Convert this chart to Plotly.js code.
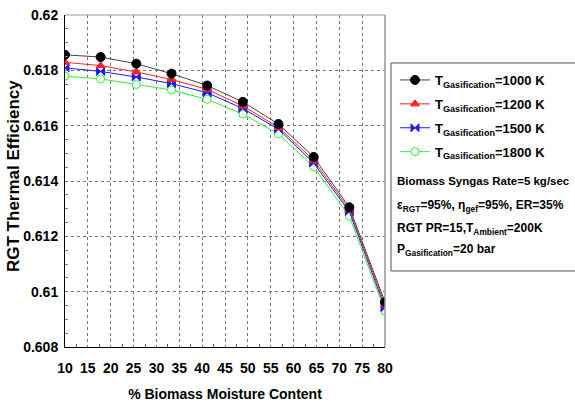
<!DOCTYPE html>
<html>
<head>
<meta charset="utf-8">
<script src="https://cdn.plot.ly/plotly-3.0.1.min.js"></script>
<style>html,body{margin:0;padding:0;background:#fff;}#chart{width:575px;height:406px;}</style>
</head>
<body>
<div id="chart"></div>
<script>
var moisture = [10, 17.8, 25.6, 33.3, 41.1, 48.9, 56.7, 64.4, 72.2, 80];
var eff1000 = [0.61856, 0.61848, 0.61824, 0.61788, 0.61745, 0.61686, 0.61606, 0.61487, 0.61305, 0.60962];
var eff1200 = [0.61829, 0.61817, 0.61794, 0.61767, 0.61731, 0.61671, 0.61594, 0.61475, 0.61297, 0.60952];
var eff1500 = [0.61809, 0.61796, 0.61776, 0.61752, 0.61719, 0.61662, 0.61587, 0.61465, 0.61289, 0.60942];
var eff1800 = [0.61779, 0.61769, 0.61749, 0.61729, 0.61695, 0.61642, 0.61570, 0.61451, 0.61273, 0.60929];
var seriesNames = ['T<sub>Gasification</sub>=1000 K', 'T<sub>Gasification</sub>=1200 K', 'T<sub>Gasification</sub>=1500 K', 'T<sub>Gasification</sub>=1800 K'];
var xTitle = '% Biomass Moisture Content';
var yTitle = 'RGT Thermal Efficiency';
var infoLines = ['Biomass Syngas Rate=5 kg/sec', '\u03b5<sub>RGT</sub>=95%, \u03b7<sub>gef</sub>=95%, ER=35%', 'RGT PR=15,T<sub>Ambient</sub>=200K', 'P<sub>Gasification</sub>=20 bar'];

var sans = '"Liberation Sans", Arial, sans-serif';

function tr(y, name, color, symbol, mfill, msize, rank) {
  return {
    x: moisture, y: y, name: name, type: 'scatter', mode: 'lines+markers',
    line: {color: color, width: 1},
    marker: {symbol: symbol, size: msize, color: mfill, line: {color: color, width: 1}},
    legendgroup: 'g' + rank, legendrank: rank
  };
}
var data = [
  tr(eff1800, seriesNames[3], '#33ee33', 'circle', '#ffffff', 8, 4),
  tr(eff1500, seriesNames[2], '#1a1aff', 'bowtie', '#1a1aff', 8, 3),
  tr(eff1200, seriesNames[1], '#ff2020', 'triangle-up', '#ff2020', 8, 2),
  tr(eff1000, seriesNames[0], '#000000', 'circle', '#000000', 9, 1)
];
data[3].line.color = '#444444';

var infoY = [180.5, 206, 228.5, 250.5];
var annotations = infoLines.map(function (t, i) {
  return {
    xref: 'paper', yref: 'paper', x: (395 - 65) / 320, y: (347 - infoY[i]) / 332,
    xanchor: 'left', yanchor: 'middle', showarrow: false, text: '<b>' + t + '</b>',
    font: {family: sans, size: i === 0 ? 11.5 : 12, color: '#000'}
  };
});
annotations.push({
  xref: 'paper', yref: 'paper', x: (13 - 65) / 320, y: (347 - 176) / 332,
  xanchor: 'center', yanchor: 'middle', textangle: -90, showarrow: false,
  text: '<b>' + yTitle + '</b>', font: {family: sans, size: 17, color: '#000'}
});

var layout = {
  width: 575, height: 406,
  margin: {l: 65, r: 190, t: 15, b: 59, autoexpand: false},
  paper_bgcolor: '#fff', plot_bgcolor: '#fff',
  showlegend: true,
  legend: {
    x: (395 - 65) / 320, y: (347 - 65) / 332, xanchor: 'left', yanchor: 'top',
    bgcolor: 'rgba(0,0,0,0)', borderwidth: 0,
    font: {family: sans, size: 13, color: '#000', weight: 'bold'},
    tracegroupgap: 4, itemwidth: 30
  },
  xaxis: {
    range: [10, 80], dtick: 5, tick0: 10,
    showgrid: true, gridcolor: '#777', griddash: 'dot', gridwidth: 1,
    showline: true, linecolor: '#000', linewidth: 1, zeroline: false,
    ticks: '', ticklabelstandoff: 8,
    tickfont: {family: sans, size: 14, color: '#000', weight: 'bold'},
    minor: {dtick: 2.5, ticks: 'inside', ticklen: 3, tickcolor: '#555', showgrid: false},
    title: {text: '<b>' + xTitle + '</b>', font: {family: sans, size: 14, color: '#000'}, standoff: 14}
  },
  yaxis: {
    range: [0.608, 0.62], dtick: 0.002, tick0: 0.608,
    showgrid: true, gridcolor: '#777', griddash: 'dot', gridwidth: 1,
    showline: true, linecolor: '#000', linewidth: 1, zeroline: false,
    ticks: '', ticklabelstandoff: 3,
    tickfont: {family: sans, size: 14, color: '#000', weight: 'bold'},
    minor: {dtick: 0.0005, ticks: 'inside', ticklen: 3, tickcolor: '#777', showgrid: false}
  },
  shapes: [
    {type: 'line', xref: 'paper', yref: 'paper', x0: 0, x1: 1, y0: 1, y1: 1, line: {color: '#999', width: 1}},
    {type: 'line', xref: 'paper', yref: 'paper', x0: 1, x1: 1, y0: 0, y1: 1, line: {color: '#999', width: 1.5}},
    {type: 'rect', xref: 'paper', yref: 'paper', x0: (391 - 65) / 320, x1: (580 - 65) / 320,
      y0: (347 - 271) / 332, y1: (347 - 63) / 332, line: {color: '#555', width: 1}, fillcolor: 'rgba(0,0,0,0)'}
  ],
  annotations: annotations
};
Plotly.newPlot('chart', data, layout, {displayModeBar: false, staticPlot: true});
</script>
</body>
</html>
